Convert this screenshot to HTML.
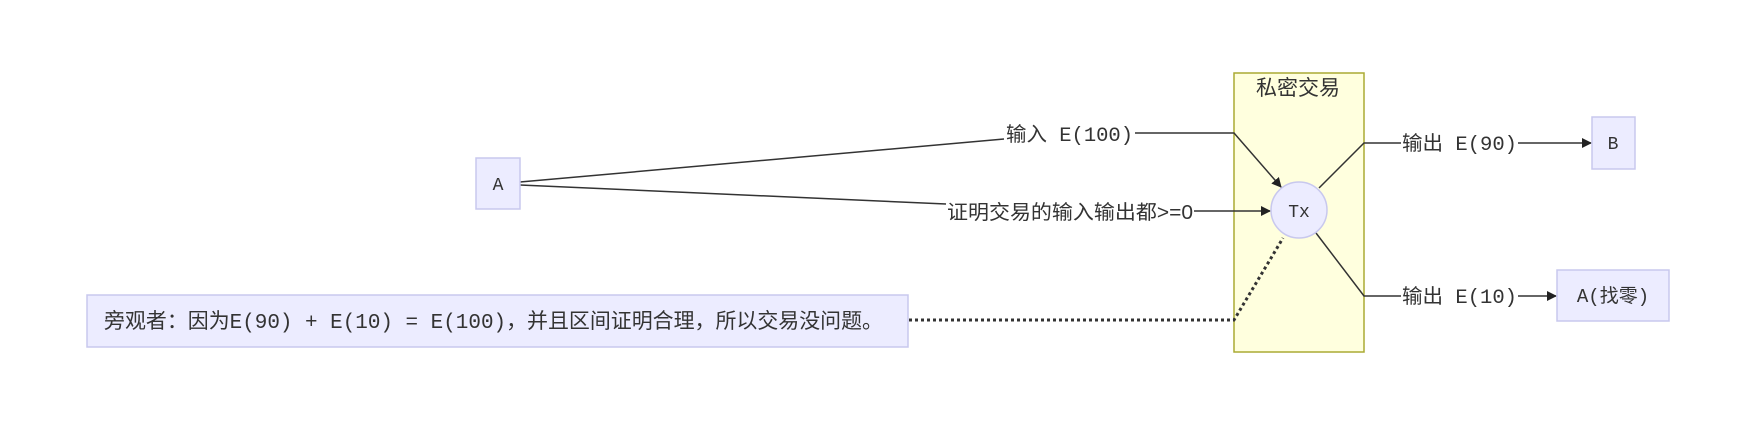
<!DOCTYPE html>
<html><head><meta charset="utf-8"><style>
html,body{margin:0;padding:0;background:#fff;}
svg{display:block;}
.cjk{font-family:"Liberation Sans","Noto Sans CJK SC",sans-serif;}
.mono{font-family:"Liberation Mono","Noto Sans CJK SC",monospace;}
</style></head><body>
<svg width="1750" height="446" viewBox="0 0 1750 446" xmlns="http://www.w3.org/2000/svg">
<defs>
<marker id="ar" markerWidth="10" markerHeight="10" refX="9" refY="5" orient="auto" markerUnits="userSpaceOnUse">
<path d="M0,0 L10,5 L0,10 z" fill="#222"/>
</marker>
</defs>
<rect x="1234" y="73" width="130" height="279" fill="#ffffde" stroke="#aaaa33" stroke-width="1.5"/>
<text x="1298" y="95" class="cjk" font-size="21" fill="#333" text-anchor="middle">私密交易</text>

<g fill="none" stroke="#333" stroke-width="1.5">
<polyline points="520,182 1004,139"/>
<polyline points="1135,133 1234,133 1281,187" marker-end="url(#ar)"/>
<polyline points="520,185 946,204"/>
<polyline points="1194,211 1270,211" marker-end="url(#ar)"/>
<polyline points="1319,188 1364,143 1401,143"/>
<polyline points="1518,143 1591,143" marker-end="url(#ar)"/>
<polyline points="1316,233 1364,296 1401,296"/>
<polyline points="1518,296 1556,296" marker-end="url(#ar)"/>
<polyline points="909,320 1234,320 1283,238" stroke-width="3" stroke-dasharray="3,3"/>
</g>

<g fill="#333" font-size="20">
<text x="1006" y="141" class="mono" textLength="127" lengthAdjust="spacingAndGlyphs"><tspan class="cjk">输入</tspan> E(100)</text>
<text x="947" y="219" class="cjk" textLength="246" lengthAdjust="spacingAndGlyphs">证明交易的输入输出都&gt;=0</text>
<text x="1402" y="150" class="mono" textLength="115" lengthAdjust="spacingAndGlyphs"><tspan class="cjk">输出</tspan> E(90)</text>
<text x="1402" y="303" class="mono" textLength="115" lengthAdjust="spacingAndGlyphs"><tspan class="cjk">输出</tspan> E(10)</text>
</g>

<g fill="#ECECFF" stroke="#c8c8ee" stroke-width="1.5">
<rect x="476" y="158" width="44" height="51"/>
<rect x="1592" y="117" width="43" height="52"/>
<rect x="1557" y="270" width="112" height="51"/>
<rect x="87" y="295" width="821" height="52"/>
<circle cx="1299" cy="210" r="28"/>
</g>
<g fill="#333" font-size="18" class="mono" text-anchor="middle">
<text x="498" y="190">A</text>
<text x="1613" y="149">B</text>
<text x="1613" y="302" font-size="19">A(<tspan class="cjk">找零</tspan>)</text>
<text x="1299" y="217">Tx</text>
</g>
<text x="104" y="328" class="mono" font-size="21" fill="#333" textLength="779" lengthAdjust="spacingAndGlyphs"><tspan class="cjk">旁观者：因为</tspan>E(90) + E(10) = E(100)<tspan class="cjk">，并且区间证明合理，所以交易没问题。</tspan></text>
</svg>
</body></html>
